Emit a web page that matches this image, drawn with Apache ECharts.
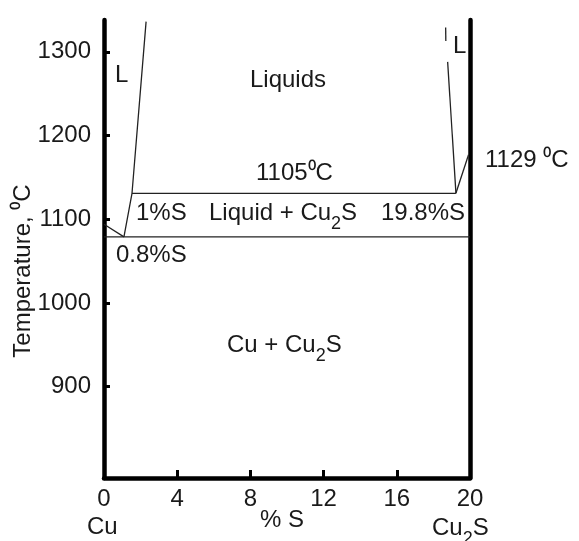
<!DOCTYPE html>
<html><head><meta charset="utf-8">
<script src="https://cdn.jsdelivr.net/npm/echarts@6/dist/echarts.min.js"></script>
<style>html,body{margin:0;padding:0;background:#fff}#c{width:579px;height:541px}</style>
</head><body><div id="c"></div>
<script>
// axis ticks
const xTickLabels = [0, 4, 8, 12, 16, 20];
const xTicks = [4, 8, 12, 16];
const yTickLabels = [900, 1000, 1100, 1200, 1300];
// phase boundaries as [% S, temperature]
const cuLiquidus = [[0, 1094], [1.09, 1079]];
const leftLiquidus = [[1.09, 1079], [1.53, 1131], [2.30, 1336]];
const monotectic = [[1.53, 1131], [19.23, 1131]];
const eutectic = [[0, 1079], [20, 1079]];
const rightLiquidusTop = [[18.67, 1329], [18.68, 1313]];
const rightLiquidus = [[18.78, 1288], [19.23, 1131]];
const cu2sLiquidus = [[19.23, 1131], [19.92, 1177]];

const F = '"Liberation Sans", Arial, sans-serif';
const FS = 24;
const INK = '#1a1a1a';
const chart = echarts.init(document.getElementById('c'), null, {renderer: 'canvas'});

function lineSeries(data) {
  return {type: 'line', data: data, symbol: 'none', silent: true, animation: false,
    lineStyle: {color: '#222', width: 1.3}, xAxisIndex: 0, yAxisIndex: 0};
}
const rich = {
  n: {fontSize: FS, lineHeight: FS, verticalAlign: 'top', fontFamily: F, fill: INK},
  s: {fontSize: 18, lineHeight: 18, padding: [14, 0, 0, 0], verticalAlign: 'top', fontFamily: F, fill: INK}
};
function t(text, x, y, align) {
  return {type: 'text', x: x, y: y, silent: true,
    style: {text: text, fontSize: FS, fontFamily: F, fill: INK, align: align || 'left', verticalAlign: 'middle'}};
}
function tr(text, x, y, align) {
  return {type: 'text', x: x, y: y, silent: true,
    style: {text: text, rich: rich, fontSize: FS, fontFamily: F, fill: INK, align: align || 'left', verticalAlign: 'top'}};
}

chart.setOption({
  animation: false,
  grid: {left: 104, right: 109, top: 20, bottom: 63},
  xAxis: {
    type: 'value', min: 0, max: 20,
    axisLine: {lineStyle: {color: '#000', width: 4.5}},
    axisTick: {show: true, inside: true, length: 8, customValues: xTicks, lineStyle: {color: '#000', width: 3}},
    axisLabel: {customValues: xTickLabels, fontSize: FS, color: INK, margin: 9, fontFamily: F,
      formatter: function (v) { return String(v); }},
    splitLine: {show: false}
  },
  yAxis: [{
    type: 'value', min: 791, max: 1338,
    axisLine: {show: true, lineStyle: {color: '#000', width: 4.5}},
    axisTick: {show: true, inside: true, length: 6, customValues: yTickLabels, lineStyle: {color: '#000', width: 3}},
    axisLabel: {customValues: yTickLabels, fontSize: FS, color: INK, margin: 13, fontFamily: F,
      formatter: function (v) { return String(v); }},
    splitLine: {show: false}
  }, {
    type: 'value', min: 791, max: 1338, position: 'right',
    axisLine: {show: true, lineStyle: {color: '#000', width: 4.5}},
    axisTick: {show: false}, axisLabel: {show: false}, splitLine: {show: false}
  }],
  series: [
    lineSeries(cuLiquidus), lineSeries(leftLiquidus), lineSeries(monotectic),
    lineSeries(eutectic), lineSeries(rightLiquidusTop), lineSeries(rightLiquidus),
    lineSeries(cu2sLiquidus)
  ],
  graphic: [
    t('L', 115, 75),
    t('Liquids', 288, 80, 'center'),
    t('L', 453, 46),
    t('1105\u2070C', 256, 173),
    t('1129 \u2070C', 485, 160),
    t('1%S', 136, 213),
    tr('{n|Liquid + Cu}{s|2}{n|S}', 209, 201),
    t('19.8%S', 381, 213),
    t('0.8%S', 116, 255),
    tr('{n|Cu + Cu}{s|2}{n|S}', 227, 333),
    t('% S', 282, 520, 'center'),
    t('Cu', 87, 527),
    tr('{n|Cu}{s|2}{n|S}', 432, 516),
    {type: 'text', x: 23, y: 271, rotation: Math.PI / 2, silent: true,
      style: {text: 'Temperature, \u2070C', fontSize: FS, fontFamily: F, fill: INK, align: 'center', verticalAlign: 'middle'}}
  ]
});
</script></body></html>
